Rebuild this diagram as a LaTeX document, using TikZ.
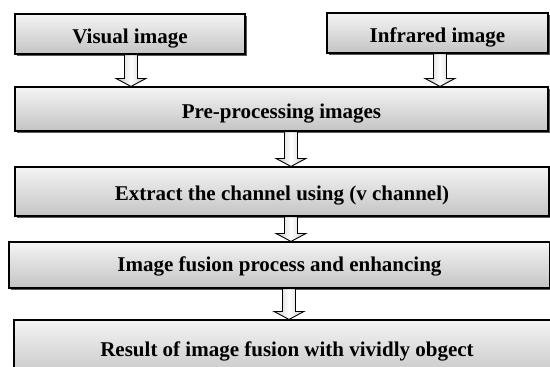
\documentclass[tikz,border=0pt]{standalone}
\usepackage{fontspec}
\setmainfont{Liberation Serif}
\usepackage{tikz}
\usetikzlibrary{calc,shadows}
\definecolor{boxtop}{RGB}{244,244,244}
\definecolor{boxbottom}{RGB}{196,196,196}
\definecolor{shadowgray}{RGB}{90,90,90}

\newcommand{\blockarr}[3]{%
  \draw[flowarrow] let \p1=(#2.south), \p2=(#3.north) in
    (#1-6.5pt,\y1) -- (#1+6.5pt,\y1) -- (#1+6.5pt,\y2+8pt) -- (#1+15pt,\y2+8pt)
    -- (#1,\y2) -- (#1-15pt,\y2+8pt) -- (#1-6.5pt,\y2+8pt) -- cycle;}

\begin{document}
\begin{tikzpicture}[x=1pt, y=-1pt,
    stepbox/.style={draw, line width=1.1pt, top color=boxtop, bottom color=boxbottom,
      drop shadow={shadow xshift=2.2pt, shadow yshift=-2.2pt, fill=shadowgray, opacity=1},
      font=\bfseries\fontsize{21}{23}\selectfont, inner sep=0pt,
      text height=23pt, text depth=5pt},
    flowarrow/.style={draw, line width=0.9pt, left color=gray!45, right color=gray!45, middle color=white}]
  \useasboundingbox (0,0) rectangle (550,367);

  \node[stepbox, minimum width=230pt, minimum height=40pt] (visual) at (130,34) {Visual image};
  \node[stepbox, minimum width=221pt, minimum height=40pt] (infrared) at (437.5,33) {Infrared image};

  \node[stepbox, minimum width=533pt, minimum height=44pt] (pre) at (281.5,109) {Pre-processing images};

  \node[stepbox, minimum width=534pt, minimum height=49pt] (extract) at (282,191.5) {Extract the channel using (v channel)};

  \node[stepbox, minimum width=541pt, minimum height=46pt, text height=17pt] (fusion) at (279.5,265) {Image fusion process and enhancing};

  \node[stepbox, minimum width=546pt, minimum height=60pt, text height=17pt] (result) at (287,350) {Result of image fusion with vividly obgect};

  \blockarr{131pt}{visual}{pre}
  \blockarr{440pt}{infrared}{pre}
  \blockarr{291pt}{pre}{extract}
  \blockarr{291pt}{extract}{fusion}
  \blockarr{289pt}{fusion}{result}
\end{tikzpicture}
\end{document}
